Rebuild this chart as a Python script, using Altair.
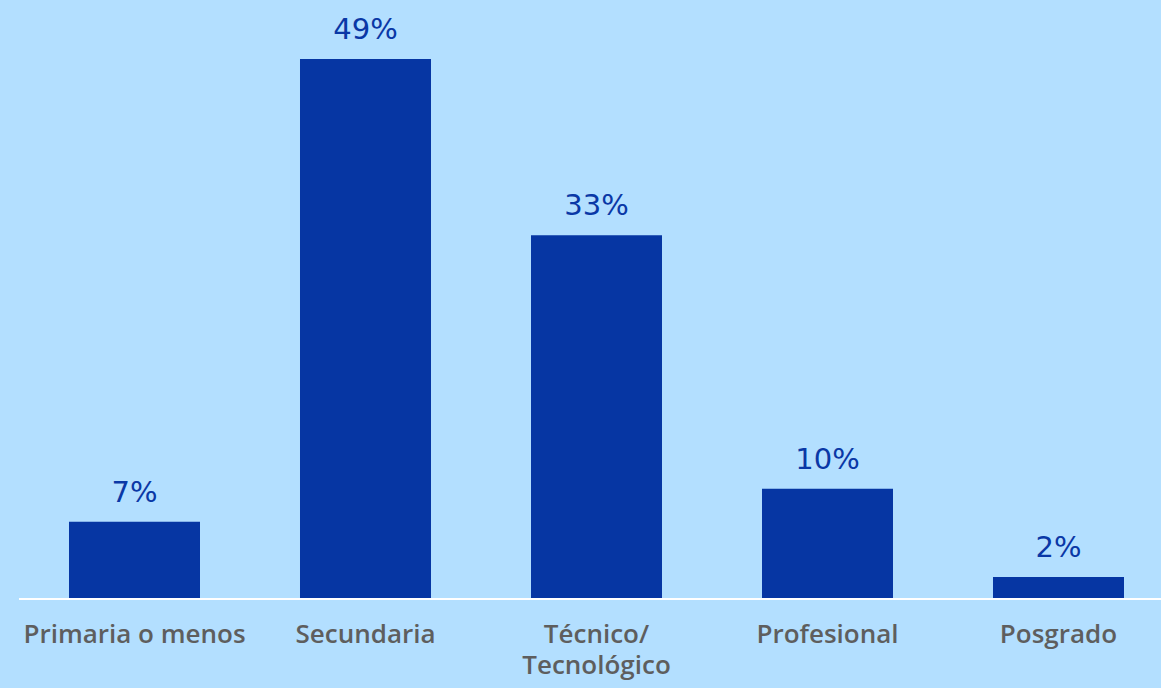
import altair as alt
import pandas as pd

categories = ["Primaria o menos", "Secundaria", "Técnico/|Tecnológico", "Profesional", "Posgrado"]
values = [7, 49, 33, 10, 2]
labels = ["7%", "49%", "33%", "10%", "2%"]

df = pd.DataFrame({"cat": categories, "val": values, "lab": labels})

BG = "#B3DFFF"
BAR = "#0636A3"
W = 1142
H = 540

xscale = alt.Scale(domain=categories, range=[0, 1155], paddingInner=0.4329, paddingOuter=0.21645)
yscale = alt.Scale(domain=[0, 49], nice=False)

base = alt.Chart(df)

bars = base.mark_bar(color=BAR).encode(
    x=alt.X("cat:N", sort=categories, scale=xscale,
            axis=alt.Axis(title=None, domain=False, ticks=False, labelAngle=0,
                          labelExpr="split(datum.label, '|')",
                          labelFont="Open Sans", labelFontSize=26, labelFontWeight=600,
                          labelColor="#5E5E5E", labelPadding=22, labelLineHeight=31,
                          labelBaseline="top", labelLimit=400)),
    y=alt.Y("val:Q", scale=yscale, axis=None),
)

text = base.mark_text(font="DejaVu Sans", fontSize=29, fontWeight="normal", color="#0A38A6",
                      baseline="alphabetic", dy=-20).encode(
    x=alt.X("cat:N", sort=categories, scale=xscale),
    y=alt.Y("val:Q", scale=yscale),
    text="lab:N",
)

rule = alt.Chart(pd.DataFrame({"z": [0]})).mark_rule(color="white", strokeWidth=2).encode(
    y=alt.Y("z:Q", scale=yscale),
    x=alt.value(0),
    x2=alt.value(W),
)

chart = alt.layer(bars, rule, text).properties(
    width=W, height=H, background=BG,
    padding={"left": 19, "top": 59, "right": 0, "bottom": 89},
    autosize=alt.AutoSizeParams(type="none"),
).configure_view(stroke=None)

chart.save("out.html", embed_options={"renderer": "svg", "actions": False})
